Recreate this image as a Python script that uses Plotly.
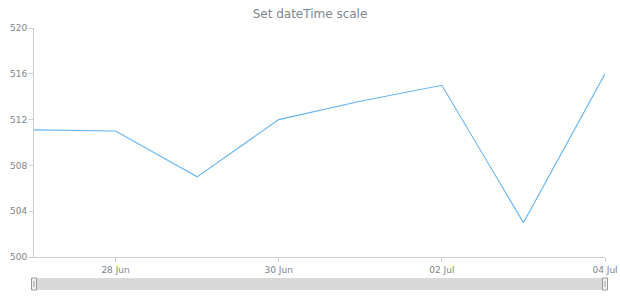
import plotly.graph_objects as go

dates = ["2015-06-27", "2015-06-28", "2015-06-29", "2015-06-30",
         "2015-07-01", "2015-07-02", "2015-07-03", "2015-07-04"]
values = [511.1, 511.0, 507.0, 512.0, 513.6, 515.0, 503.0, 516.0]
y_ticks = [500, 504, 508, 512, 516, 520]

W, H = 620, 300
L, R, T, B = 34, 15, 28, 43

fig = go.Figure()
fig.add_trace(go.Scatter(x=dates, y=values, mode="lines",
                         line=dict(color="#64b5f6", width=1.1),
                         hoverinfo="x+y"))

fig.update_layout(
    width=W, height=H,
    margin=dict(l=L, r=R, t=T, b=B, autoexpand=False),
    paper_bgcolor="white", plot_bgcolor="white",
    showlegend=False,
    font=dict(family="DejaVu Sans", size=9, color="#7c868e"),
    title=dict(text="Set dateTime scale", x=0.5, xanchor="center",
               y=1 - 14 / H, yanchor="middle",
               font=dict(size=12, color="#7c868e")),
    xaxis=dict(range=[dates[0], dates[-1]], tickformat="%d %b",
               tick0="2015-06-28", dtick=2 * 86400000,
               showgrid=False, zeroline=False, automargin=False,
               showline=True, linecolor="#cecece", linewidth=1,
               ticks="outside", ticklen=4, tickcolor="#cecece",
               tickfont=dict(size=9, color="#7c868e")),
    yaxis=dict(range=[500, 520], tickvals=y_ticks,
               showgrid=False, zeroline=False, automargin=False,
               showline=True, linecolor="#cecece", linewidth=1,
               ticks="outside", ticklen=4, tickcolor="#cecece",
               tickfont=dict(size=9, color="#7c868e")),
)

# scroller bar drawn in paper coords
def px(xp):
    return (xp - L) / (W - L - R)

def py(yp):
    return (H - B - yp) / (H - T - B)

shapes = [
    dict(type="rect", xref="paper", yref="paper",
         x0=px(34), x1=px(605), y0=py(290), y1=py(278),
         fillcolor="#d9d9d9", line=dict(width=0)),
]
for cx in (34, 605):
    shapes.append(dict(type="rect", xref="paper", yref="paper",
                       x0=px(cx - 2.5), x1=px(cx + 2.5), y0=py(290), y1=py(278),
                       fillcolor="#f2f2f2", line=dict(color="#999999", width=1)))
    shapes.append(dict(type="line", xref="paper", yref="paper",
                       x0=px(cx), x1=px(cx), y0=py(287), y1=py(281),
                       line=dict(color="#999999", width=1)))
fig.update_layout(shapes=shapes)

fig.write_html("out.html")
